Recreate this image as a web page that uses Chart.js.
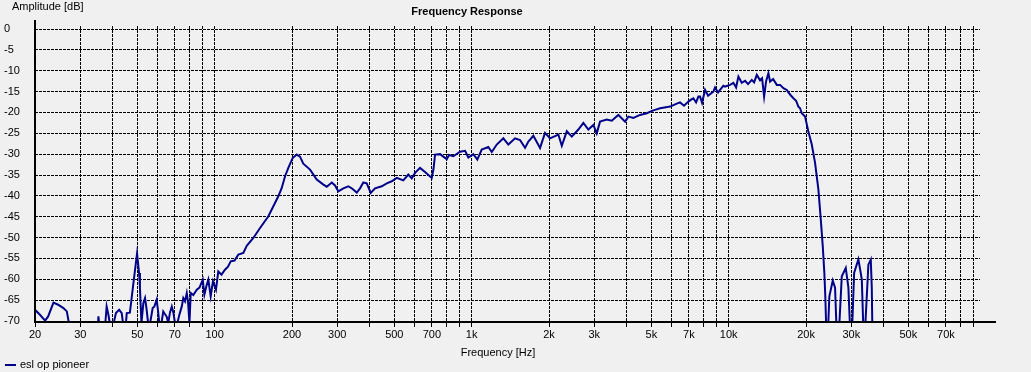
<!DOCTYPE html>
<html lang="en">
<head>
<meta charset="UTF-8">
<title>Frequency Response</title>
<script src="https://cdn.jsdelivr.net/npm/chart.js"></script>
<style>
    body {
        margin: 0;
        background: #f0f0f0;
    }
    #wrap {
        width: 1031px;
        height: 372px;
        position: relative;
    }
</style>
</head>
<body>
<div id="wrap"><canvas id="chart" width="1031" height="372"></canvas></div>
<script>
const bassHz = [20, 20.9, 21.9, 22.5, 23.6, 24.6, 25.8, 26.6, 27.1, 27.5,
    34.8, 35.3, 35.6, 37.5, 38.0, 38.6, 39.2, 40.3, 41.3, 42.5,
    43.5, 44.1, 45.1, 45.5, 46.8, 48.3, 49.9, 50.8, 51.2, 51.9,
    52.8, 53.6, 54.3, 55.1, 56.1, 57.4, 58.3, 59.5, 60.2, 60.9,
    62.1, 63.1, 65.1, 66.0, 67.0, 68.1, 69.1, 70.1, 71.6, 72.9,
    74.5, 75.5, 76.7, 77.9, 78.8, 79.8, 80.7, 82.6, 85.2, 87.3,
    89.9, 91.2, 93.0, 94.5, 96.5, 98.5, 101.2, 103.3, 106.3, 109.7,
    112.7, 115.5, 119.5, 123.6, 129.3, 133.3, 141.4, 150.2, 161.8, 169.2];
const bassDb = [-67.3, -68.5, -69.9, -68.9, -65.6, -66.1, -66.9, -67.7, -70.5, -76,
    -76, -68.9, -71, -71, -66.5, -68.5, -71, -71, -68.1, -67.3,
    -68.1, -71, -71, -68.1, -68.0, -60.9, -53.8, -58.5, -62, -70.5,
    -65.7, -64.5, -67, -70.5, -70.5, -66.9, -66.5, -64.9, -67.5, -70.5,
    -70.5, -67.7, -69, -70.5, -68, -66.5, -68, -70.5, -70.5, -68.5,
    -66.5, -64.5, -65.3, -63.3, -65.5, -70.5, -63.3, -63.8, -62.5, -62.0,
    -60.1, -63.7, -61.5, -60.1, -64.1, -60.5, -62.5, -58.1, -58.9, -57.7,
    -57.0, -55.7, -55.5, -54.1, -53.7, -52.0, -50.1, -47.7, -44.9, -42.5];

const midHz = [176.9, 182.4, 187.9, 193.5, 201.3, 208.6, 214.8, 221.3, 235.0, 249.6,
    264.9, 273.0, 285.5, 294.0, 302.8, 316.7, 331.2, 341.5, 357.2, 367.8,
    378.9, 390.6, 404.8, 420.8, 446.8, 467.3, 488.7, 511.1, 542.0, 567.0,
    584.6, 602.0, 629.7, 658.5, 678.4, 699.3, 710.6, 720.2, 753.3, 799.8,
    816.6, 848.7, 901.3, 942.6, 970.6, 1015, 1052, 1094, 1161, 1197];
const midDb = [-40.1, -38.1, -35.3, -33.3, -30.9, -30.1, -30.6, -32.3, -33.7, -36.1,
    -37.3, -37.8, -36.8, -37.5, -38.9, -38.2, -37.7, -38.2, -39.2, -38.2,
    -36.8, -37.0, -39.3, -38.2, -37.7, -37.0, -36.5, -35.7, -36.3, -34.9,
    -35.8, -34.5, -33.3, -34.3, -35.0, -35.7, -33.5, -30.1, -30.0, -31.2,
    -30.2, -30.5, -29.4, -29.2, -30.8, -30.0, -31.3, -28.9, -28.3, -29.5];

const trebleHz = [1252, 1328, 1389, 1475, 1542, 1613, 1662, 1738, 1845, 1929,
    2018, 2174, 2242, 2345, 2452, 2600, 2720, 2844, 2975, 3066,
    3158, 3354, 3508, 3722, 3952, 4071, 4257, 4520, 4800, 5092,
    5408, 5915, 6279, 6466, 6702, 6966, 7183, 7287, 7466, 7621,
    7736, 7877, 8091, 8312, 8718, 8850, 9092, 9534, 9680, 10124,
    10428, 10684, 10906, 11242, 11580, 11896, 12298, 12556, 12862, 13248,
    13488, 13732, 13982, 14270, 14490, 14886, 15388, 15848, 16324, 16828,
    17070, 17488, 17854, 18290, 18666, 18956, 19246, 19822];
const trebleDb = [-27.7, -26.2, -27.7, -26.2, -26.6, -28.5, -27.0, -25.6, -28.5, -24.9,
    -26.2, -25.3, -28.0, -24.5, -25.8, -24.1, -22.5, -24.1, -23.0, -25.0,
    -22.2, -21.7, -22.0, -20.6, -22.2, -21.0, -21.3, -20.6, -20.2, -19.5,
    -19.0, -18.6, -17.9, -17.6, -18.4, -17.4, -16.8, -16.6, -17.6, -16.2,
    -16.2, -17.7, -14.6, -16.0, -15.0, -14.0, -15.2, -13.6, -13.8, -13.4,
    -12.9, -14.0, -11.4, -12.9, -12.4, -13.2, -12.2, -12.8, -11.0, -12.3,
    -11.8, -16.2, -12.5, -10.6, -12.6, -12.0, -13.4, -13.4, -14.2, -14.6,
    -15.2, -16.0, -16.6, -17.2, -18.6, -19.0, -20.2, -21.0];

const rolloffHz = [20416, 21048, 21677, 22336, 22820, 23228, 23560, 23772, 23964, 24352,
    24640, 25400, 25930, 26280, 26880, 27540, 28540, 29220, 29670, 30210,
    30760, 31960, 32950, 33420, 33940, 34950, 35710, 36030, 36220];
const rolloffDb = [-24.6, -27.7, -32.1, -38.5, -45.7, -52.1, -58.5, -64.5, -72, -72,
    -64.1, -60.3, -62, -72, -72, -59.3, -57.3, -62, -72, -72,
    -58.5, -55.2, -60, -72, -72, -56.5, -55.3, -62, -72];

// axis ticks
const xGridHz = [20, 30, 40, 50, 60, 70, 80, 90,
    100, 200, 300, 400, 500, 600, 700, 800, 900,
    1000, 2000, 3000, 4000, 5000, 6000, 7000, 8000, 9000,
    10000, 20000, 30000, 40000, 50000, 60000, 70000, 80000, 90000];
const xLabelHz = [20, 30, 50, 70, 100, 200, 300, 500, 700, 1000, 2000, 3000, 5000, 7000,
    10000, 20000, 30000, 50000, 70000];
const yTicksDb = [0, -5, -10, -15, -20, -25, -30, -35, -40, -45, -50, -55, -60, -65, -70];

const seriesName = 'esl op pioneer';
const lineColor = '#00008b';
const uiFont = '"Liberation Sans", Arial, sans-serif';

const allHz = bassHz.concat(midHz, trebleHz, rolloffHz);
const allDb = bassDb.concat(midDb, trebleDb, rolloffDb);
const points = allHz.map((f, i) => ({ x: f, y: allDb[i] }));

function hzLabel(v) {
    return v >= 1000 ? (v / 1000) + 'k' : String(v);
}

// frame lines, titles and the legend
const decor = {
    id: 'decor',
    afterDraw(chart) {
        const ctx = chart.ctx;
        const area = chart.chartArea;
        ctx.save();
        ctx.strokeStyle = '#000';
        ctx.lineWidth = 2;
        ctx.beginPath();
        ctx.moveTo(35, 20);
        ctx.lineTo(35, area.bottom + 1);
        ctx.moveTo(34, area.bottom + 1);
        ctx.lineTo(996, area.bottom + 1);
        ctx.stroke();

        ctx.fillStyle = '#000';
        ctx.textBaseline = 'middle';
        ctx.font = 'bold 11px ' + uiFont;
        ctx.textAlign = 'center';
        ctx.fillText('Frequency Response', 467, 12);

        ctx.font = '11px ' + uiFont;
        ctx.textAlign = 'left';
        ctx.fillText('Amplitude [dB]', 12, 7);
        ctx.textAlign = 'center';
        ctx.fillText('Frequency [Hz]', 498, 353);

        // legend
        ctx.strokeStyle = lineColor;
        ctx.lineWidth = 2;
        ctx.beginPath();
        ctx.moveTo(5, 365);
        ctx.lineTo(16, 365);
        ctx.stroke();
        ctx.textAlign = 'left';
        ctx.fillText(seriesName, 20, 365);
        ctx.restore();
    }
};

new Chart(document.getElementById('chart'), {
    type: 'line',
    data: {
        datasets: [{
            label: seriesName,
            data: points,
            borderColor: lineColor,
            borderWidth: 2,
            pointRadius: 0,
            tension: 0,
            fill: false
        }]
    },
    options: {
        responsive: false,
        animation: false,
        layout: { padding: { top: 26, left: 4, right: 51, bottom: 0 } },
        plugins: {
            legend: { display: false },
            title: { display: false },
            tooltip: { enabled: false }
        },
        scales: {
            x: {
                type: 'logarithmic',
                min: 20,
                max: 95000,
                afterBuildTicks: s => { s.ticks = xGridHz.map(v => ({ value: v })); },
                afterFit: s => { s.height = 51; },
                grid: { color: '#000', lineWidth: 1, drawTicks: true, tickLength: 6, tickColor: '#000' },
                border: { display: false, dash: [3, 1] },
                ticks: {
                    autoSkip: false,
                    maxRotation: 0,
                    padding: 1,
                    color: '#000',
                    font: { family: uiFont, size: 11 },
                    callback: v => xLabelHz.includes(v) ? hzLabel(v) : ''
                }
            },
            y: {
                min: -70,
                max: 0.72,
                afterBuildTicks: s => { s.ticks = yTicksDb.map(v => ({ value: v })); },
                afterFit: s => { s.width = 31; },
                grid: { color: '#000', lineWidth: 1, drawTicks: false },
                border: { display: false, dash: [3, 1] },
                ticks: {
                    crossAlign: 'far',
                    padding: 0,
                    color: '#000',
                    font: { family: uiFont, size: 11 }
                }
            }
        }
    },
    plugins: [decor]
});
</script>
</body>
</html>
